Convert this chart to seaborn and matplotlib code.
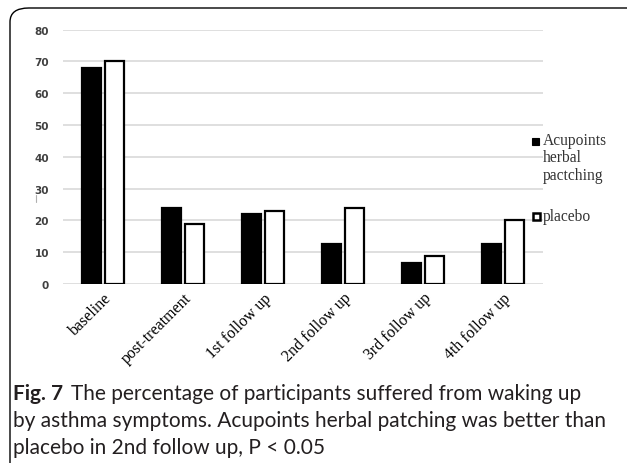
import pandas as pd
import matplotlib
matplotlib.use("Agg")
import matplotlib.pyplot as plt
import seaborn as sns
from matplotlib.patches import FancyBboxPatch, Rectangle
from matplotlib.lines import Line2D

# data
stages = ["baseline", "post-treatment", "1st follow up", "2nd follow up",
          "3rd follow up", "4th follow up"]
acupoints = [68, 24, 22, 12.7, 6.6, 12.7]
placebo = [70, 19, 23, 24, 8.8, 20]
groups = ["Acupoints\nherbal\npactching", "placebo"]
y_ticks = [0, 10, 20, 30, 40, 50, 60, 70, 80]

df = pd.DataFrame({
    "stage": stages * 2,
    "value": acupoints + placebo,
    "group": [groups[0]] * len(stages) + [groups[1]] * len(stages),
})

sns.set_theme(style="white")
W, H = 627, 464
fig = plt.figure(figsize=(W / 100, H / 100), dpi=100)

def fx(px):
    return px / W

def fy(py):
    return 1 - py / H

# card outline (only top and left edges visible)
card = FancyBboxPatch((fx(10), -0.05), 1.2, fy(9) + 0.05,
                      boxstyle="round,pad=0,rounding_size=0.03",
                      transform=fig.transFigure, fill=False,
                      edgecolor="black", linewidth=1.0)
fig.patches.append(card)

ax = fig.add_axes([fx(63), fy(285), fx(480), (285 - 30.7) / H])
sns.barplot(data=df, x="stage", y="value", hue="group", ax=ax,
            palette=["black", "white"], width=0.56, gap=0.14,
            edgecolor="black", linewidth=1.6, legend=False)

ax.set_ylim(0, 80)
ax.set_xlim(-0.5, 5.5)
ax.set_yticks(y_ticks)
ax.set_yticklabels([str(t) for t in y_ticks], fontsize=7.5,
                   fontweight="bold", color="#404040")
ax.tick_params(axis="y", length=0, pad=10)
ax.tick_params(axis="x", length=0, pad=4)
ax.yaxis.grid(True, color="#d9d9d9", linewidth=1.2)
ax.set_axisbelow(True)
for s in ax.spines.values():
    s.set_visible(False)
ax.set_xlabel("")
ax.set_ylabel("")
ax.set_xticks(range(len(stages)))
ax.set_xticklabels(stages, rotation=45, ha="right", rotation_mode="anchor",
                   family="Liberation Serif", fontsize=11.5, color="black")

# stray tick next to the y axis
fig.add_artist(Line2D([fx(36), fx(36)], [fy(196), fy(203)],
                      color="#b0b0b0", linewidth=0.8))

# legend, drawn by hand so the swatch sits on the first text line
leg_font = {"family": "Liberation Serif", "size": 11.2, "color": "#333333"}
fig.patches.append(Rectangle((fx(532), fy(146)), fx(7), 7 / H,
                             transform=fig.transFigure, facecolor="black",
                             edgecolor="black", linewidth=0.8))
fig.text(fx(543), fy(133), groups[0], va="top", ha="left",
         linespacing=1.12, **leg_font)
fig.patches.append(Rectangle((fx(533), fy(221)), fx(7), 7 / H,
                             transform=fig.transFigure, facecolor="white",
                             edgecolor="black", linewidth=1.8))
fig.text(fx(543), fy(217), groups[1], va="center", ha="left", **leg_font)

# caption
cap_font = "Lato"
fs = 15
cap_col = "#231f20"
t1 = fig.text(fx(13), fy(394), "Fig. 7", fontsize=fs, fontweight="bold",
              family=cap_font, va="center", color=cap_col)
fig.canvas.draw()
bb = t1.get_window_extent()
fig.text(fx(bb.x1 + 8), fy(394),
         "The percentage of participants suffered from waking up",
         fontsize=fs, family=cap_font, va="center", color=cap_col)
fig.text(fx(13), fy(421),
         "by asthma symptoms. Acupoints herbal patching was better than",
         fontsize=fs, family=cap_font, va="center", color=cap_col)
fig.text(fx(13), fy(448), "placebo in 2nd follow up, P < 0.05",
         fontsize=fs, family=cap_font, va="center", color=cap_col)

fig.savefig("out.png", dpi=100)
